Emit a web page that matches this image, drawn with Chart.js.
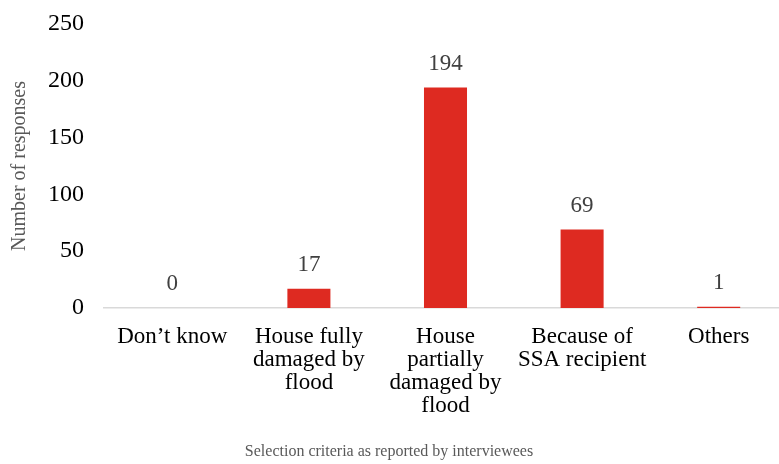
<!DOCTYPE html>
<html>
<head>
<meta charset="utf-8">
<script src="https://cdn.jsdelivr.net/npm/chart.js"></script>
<style>
  html, body { margin: 0; padding: 0; background: #fff; overflow: hidden; }
  /* plot runs a few px past the right edge in the original, so the box is a bit wider than the window */
  #wrap { width: 787px; height: 464px; }
</style>
</head>
<body>
<div id="wrap"><canvas id="chart"></canvas></div>
<script>
  var categories = [
    ["Don\u2019t know"],
    ["House fully", "damaged by", "flood"],
    ["House", "partially", "damaged by", "flood"],
    ["Because of", "SSA recipient"],
    ["Others"]
  ];
  var responses = [0, 17, 194, 69, 1];
  var yTicks = [0, 50, 100, 150, 200, 250];
  var xTitle = 'Selection criteria as reported by interviewees';
  var yTitle = 'Number of responses';

  var serif = '"Liberation Serif", "Times New Roman", serif';

  // numbers above the bars + the x axis title (centred on the page, not the plot)
  var extraText = {
    id: 'extraText',
    afterDatasetsDraw: function (chart) {
      var ctx = chart.ctx;
      var meta = chart.getDatasetMeta(0);
      ctx.save();
      ctx.font = '23px ' + serif;
      ctx.fillStyle = '#404040';
      ctx.textAlign = 'center';
      ctx.textBaseline = 'middle';
      meta.data.forEach(function (bar, i) {
        ctx.fillText(responses[i], bar.x, bar.y - 24);
      });
      ctx.font = '16px ' + serif;
      ctx.fillStyle = '#595959';
      ctx.fillText(xTitle, 389, 452);
      ctx.restore();
    }
  };

  new Chart(document.getElementById('chart'), {
    type: 'bar',
    data: {
      labels: categories,
      datasets: [{
        data: responses,
        backgroundColor: '#DE2A21',
        borderWidth: 0,
        categoryPercentage: 1,
        barPercentage: 0.315
      }]
    },
    options: {
      responsive: true,
      maintainAspectRatio: false,
      animation: false,
      layout: { padding: { top: -3, right: 0, bottom: 38, left: 8 } },
      plugins: { legend: { display: false }, tooltip: { enabled: false } },
      scales: {
        x: {
          grid: { display: false },
          border: { color: '#d9d9d9', width: 1.5 },
          ticks: {
            color: '#000',
            font: { family: serif, size: 23, lineHeight: '23px' },
            maxRotation: 0,
            autoSkip: false,
            padding: 9
          }
        },
        y: {
          min: 0,
          max: 250,
          afterBuildTicks: function (axis) {
            axis.ticks = yTicks.map(function (v) { return { value: v }; });
          },
          grid: { display: false },
          border: { display: false },
          ticks: {
            color: '#000',
            font: { family: serif, size: 24, lineHeight: 1 },
            padding: 12
          },
          title: {
            display: true,
            text: yTitle,
            color: '#595959',
            font: { family: serif, size: 20 },
            padding: { top: 0, bottom: 4 }
          }
        }
      }
    },
    plugins: [extraText]
  });
</script>
</body>
</html>
